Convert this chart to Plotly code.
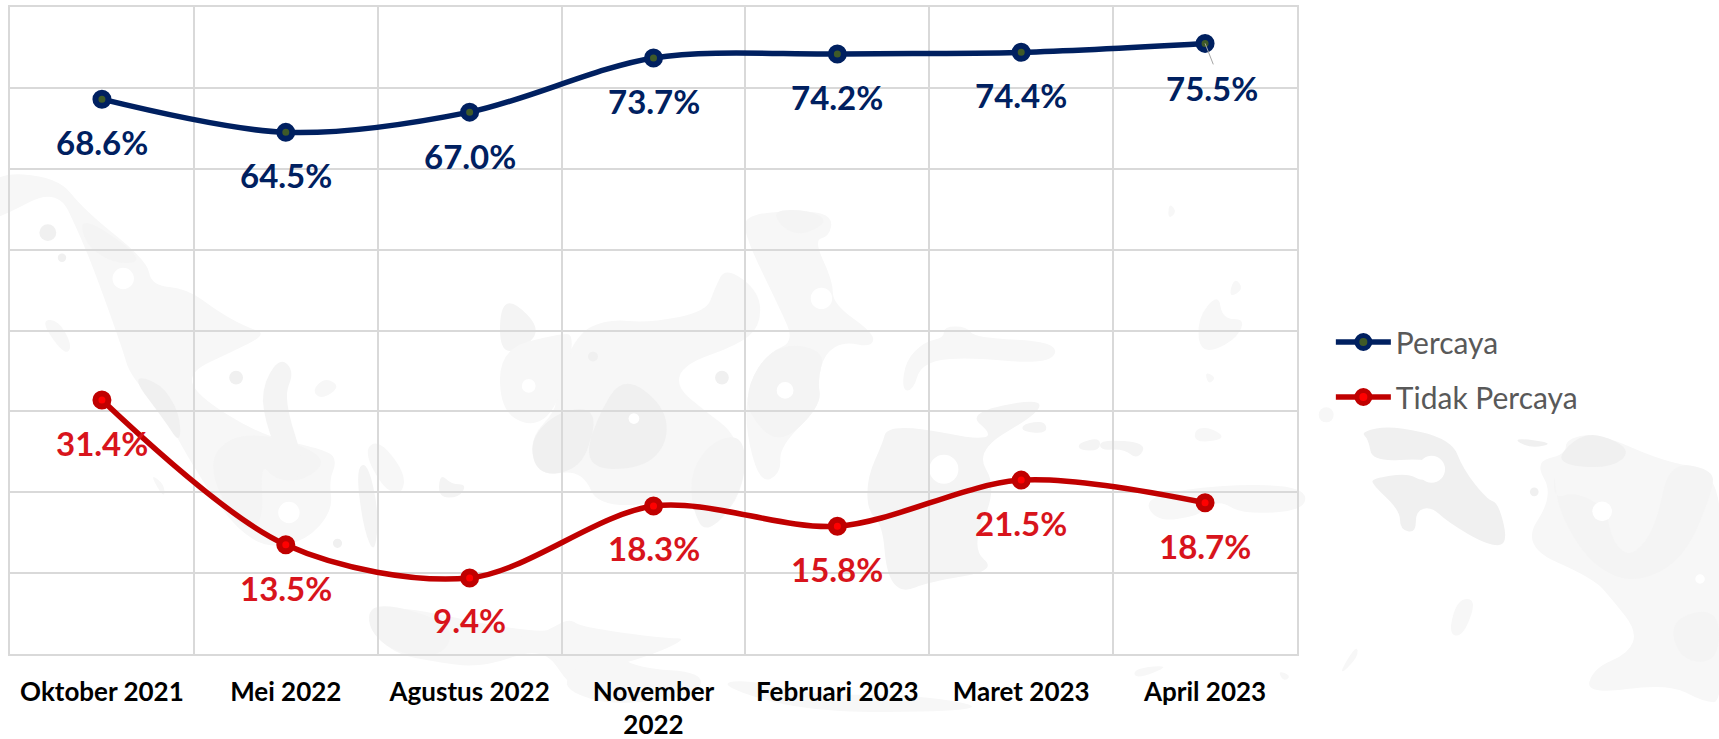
import plotly.graph_objects as go

# ---------- data ----------
categories = ["Oktober 2021", "Mei 2022", "Agustus 2022", "November<br>2022",
              "Februari 2023", "Maret 2023", "April 2023"]
percaya = [68.6, 64.5, 67.0, 73.7, 74.2, 74.4, 75.5]
tidak_percaya = [31.4, 13.5, 9.4, 18.3, 15.8, 21.5, 18.7]
y_ticks = [0, 10, 20, 30, 40, 50, 60, 70, 80]

# label offsets (px)
percaya_shift = [43, 43, 44, 43, 43, 43, 45]
tidak_shift = [43, 43, 42, 42, 43, 43, 43]
percaya_xshift = [0, 0, 0, 0, 0, 0, 7]

NAVY, RED, RED_TXT, GRID = "#002060", "#c00000", "#d8141c", "#d9d9d9"
W, H = 1719, 739
L, R, T, B = 10, 1297, 7, 654
FONT = "Lato, Carlito, Calibri, sans-serif"

fig = go.Figure()
fig.add_trace(go.Scatter(
    x=categories, y=percaya, name="Percaya", mode="lines+markers",
    line=dict(color=NAVY, width=5.5, shape="spline", smoothing=0.9),
    marker=dict(size=13, color="#3f5a28", line=dict(color=NAVY, width=6)),
    legendgroup="a", hoverinfo="skip"))
fig.add_trace(go.Scatter(
    x=categories, y=tidak_percaya, name="Tidak Percaya", mode="lines+markers",
    line=dict(color=RED, width=5.5, shape="spline", smoothing=0.9),
    marker=dict(size=13, color="#ff0000", line=dict(color=RED, width=6)),
    legendgroup="b", hoverinfo="skip"))


# ---------- decorative watermark (map silhouette) in page pixels ----------
def px(x):
    return (x - L) / (R - L)


def py(y):
    return (B - y) / (B - T)


def blob(points, sx, sy, ox, oy, color):
    p = [(ox + a / sx, oy + b / sy) for a, b in points]
    n = len(p)
    mids = [((p[i][0] + p[(i + 1) % n][0]) / 2, (p[i][1] + p[(i + 1) % n][1]) / 2) for i in range(n)]
    d = f"M{px(mids[-1][0]):.5f},{py(mids[-1][1]):.5f}"
    for i in range(n):
        d += f" Q{px(p[i][0]):.5f},{py(p[i][1]):.5f} {px(mids[i][0]):.5f},{py(mids[i][1]):.5f}"
    return dict(type="path", path=d + " Z", xref="paper", yref="paper", layer="below",
                fillcolor=color, line=dict(width=0))


def dot(x, y, r, sx, sy, ox, oy, color):
    cx, cy = ox + x / sx, oy + y / sy
    rr = r / sx
    return dict(type="circle", xref="paper", yref="paper", layer="below",
                x0=px(cx - rr), x1=px(cx + rr), y0=py(cy + rr), y1=py(cy - rr),
                fillcolor=color, line=dict(width=0))


LIGHT, SOFT, MID = "#f7f7f7", "#f4f4f4", "#f0f0f0"
Z4 = (1568 / 600, 1568 / 589, 0, 150)
Z5 = (1568 / 600, 1568 / 589, 500, 150)
Z6 = (1568 / 619, 1568 / 589, 1100, 150)

shapes = []
for pts, z, c in [
    # Sumatra
    ([(-30, 60), (150, 70), (220, 160), (385, 295), (395, 360), (490, 370), (570, 430), (640, 470),
      (700, 490), (600, 540), (495, 590), (510, 650), (680, 760), (860, 800), (880, 830), (860, 880),
      (870, 960), (800, 1040), (700, 1060), (620, 1010), (540, 900), (470, 780), (430, 700), (340, 600),
      (320, 530), (250, 330), (210, 230), (150, 100), (0, 180), (-30, 180)], Z4, LIGHT),
    ([(340, 598), (420, 620), (470, 700), (472, 785), (430, 720)], Z4, MID),
    ([(210, 170), (385, 295), (300, 305), (220, 250)], Z4, SOFT),
    ([(540, 840), (600, 760), (720, 760), (860, 820), (800, 880), (720, 880), (680, 830), (690, 1000), (620, 1010)], Z4, SOFT),
    ([(105, 455), (150, 450), (190, 520), (170, 548)], Z4, LIGHT),
    ([(680, 640), (730, 550), (770, 590), (740, 660), (800, 850), (760, 885), (700, 750)], Z4, SOFT),
    ([(815, 640), (850, 605), (890, 630), (840, 665)], Z4, LIGHT),
    ([(930, 850), (960, 830), (990, 960), (980, 1080), (950, 1010)], Z4, SOFT),
    ([(950, 800), (990, 770), (1060, 860), (1050, 920), (1000, 900)], Z4, LIGHT),
    ([(1150, 860), (1180, 890), (1220, 890), (1200, 925), (1145, 925)], Z4, SOFT),
    ([(390, 860), (430, 890), (430, 930)], Z4, LIGHT),
    # Java
    ([(975, 1198), (1420, 1295), (1490, 1250), (1560, 1290), (1560, 1460), (1490, 1430), (1420, 1320),
      (1260, 1380), (1120, 1360), (1030, 1340), (958, 1270)], Z4, LIGHT),
    ([(975, 1198), (1190, 1260), (1160, 1350), (1030, 1340), (958, 1270)], Z4, SOFT),
    # Kalimantan
    ([(280, 450), (390, 460), (540, 430), (560, 370), (590, 310), (680, 380), (680, 470), (620, 520),
      (480, 570), (460, 630), (530, 690), (620, 760), (645, 900), (540, 1030), (530, 920), (260, 960),
      (215, 850), (100, 870), (75, 770), (150, 690), (140, 640), (200, 490)], Z5, LIGHT),
    ([(320, 598), (430, 680), (440, 780), (370, 850), (215, 848), (260, 690), (160, 690), (75, 770), (100, 870), (215, 848), (250, 720)], Z5, MID),
    ([(0, 420), (35, 400), (110, 480), (50, 535), (0, 535)], Z5, SOFT),
    ([(0, 530), (150, 490), (200, 490), (150, 690), (80, 740), (0, 690)], Z5, LIGHT),
    ([(500, 850), (560, 770), (640, 760), (640, 900), (540, 1030), (500, 950)], Z5, SOFT),
    # Sulawesi
    ([(640, 170), (810, 160), (870, 180), (860, 230), (820, 240), (870, 350), (870, 410), (980, 490),
      (970, 525), (900, 510), (850, 540), (830, 610), (840, 680), (730, 790), (735, 860), (680, 890),
      (640, 740), (650, 620), (700, 540), (770, 510), (730, 420), (640, 230)], Z5, LIGHT),
    ([(710, 160), (810, 160), (860, 190), (790, 228), (740, 210)], Z5, SOFT),
    ([(650, 620), (700, 540), (770, 515), (850, 540), (830, 610), (840, 680), (730, 790), (645, 700)], Z5, SOFT),
    # Maluku band
    ([(1010, 740), (1100, 740), (1240, 770), (1290, 760), (1220, 700), (1410, 660), (1410, 700),
      (1240, 800), (1300, 900), (1230, 1060), (1300, 1120), (1120, 1150), (1050, 1180), (1010, 1130),
      (1000, 1000), (960, 960), (960, 870), (1000, 780)], Z5, SOFT),
    ([(1160, 470), (1220, 470), (1240, 500), (1460, 510), (1440, 572), (1200, 550), (1100, 570),
      (1080, 640), (1050, 640), (1060, 560), (1110, 510), (1160, 500)], Z5, LIGHT),
    ([(1365, 730), (1425, 720), (1430, 755), (1365, 750)], Z5, SOFT),
    ([(1510, 780), (1568, 765), (1568, 800), (1515, 800)], Z5, SOFT),
    # Lesser Sunda
    ([(0, 1290), (110, 1290), (180, 1245), (210, 1270), (430, 1300), (495, 1300), (360, 1360), (170, 1400), (110, 1300)], Z5, LIGHT),
    ([(180, 1390), (280, 1330), (360, 1380), (530, 1390), (520, 1450), (300, 1480), (170, 1440)], Z5, LIGHT),
    ([(570, 1420), (650, 1410), (800, 1450), (1100, 1450), (1300, 1490), (900, 1500), (700, 1470)], Z5, LIGHT),
    # small islands right
    ([(175, 140), (195, 165), (172, 185)], Z6, LIGHT),
    ([(340, 338), (365, 370), (325, 395)], Z6, LIGHT),
    ([(245, 450), (300, 380), (310, 450), (370, 450), (340, 510), (255, 545)], Z6, LIGHT),
    ([(265, 590), (295, 605), (275, 625)], Z6, LIGHT),
    ([(240, 740), (285, 740), (320, 770), (240, 780)], Z6, LIGHT),
    ([(0, 770), (120, 780), (95, 825), (60, 795), (0, 800)], Z6, SOFT),
    ([(110, 920), (320, 890), (520, 895), (520, 960), (360, 970), (300, 930), (250, 975), (140, 990)], Z6, LIGHT),
    # Papua
    ([(1100, 830), (1180, 810), (1180, 770), (1260, 752), (1430, 830), (1550, 850), (1580, 1000),
      (1580, 1470), (1530, 1470), (1440, 1420), (1230, 1450), (1250, 1380), (1340, 1340), (1360, 1280),
      (1300, 1200), (1250, 1140), (1065, 1055), (1150, 920)], Z6, LIGHT),
    ([(1150, 835), (1200, 770), (1260, 752), (1350, 800), (1290, 850)], Z6, MID),
    ([(1150, 850), (1160, 960), (1240, 1100), (1350, 1158), (1480, 1090), (1555, 900), (1550, 850),
      (1440, 830), (1410, 1000), (1350, 1085), (1300, 1050), (1280, 950), (1200, 910), (1150, 930)], Z6, SOFT),
    ([(1440, 1250), (1568, 1215), (1568, 1365), (1470, 1360)], Z6, SOFT),
    # Bird's head
    ([(660, 750), (740, 733), (890, 770), (920, 850), (980, 930), (1010, 940), (1035, 1052), (980, 1052),
      (880, 990), (840, 950), (800, 960), (800, 1020), (760, 1010), (760, 960), (690, 890), (690, 875),
      (780, 860), (820, 885), (870, 850), (830, 820), (690, 830), (680, 770)], Z6, MID),
    ([(1040, 765), (1155, 780), (1090, 795)], Z6, MID),
    ([(905, 1195), (955, 1195), (920, 1295), (882, 1290)], Z6, LIGHT),
    ([(650, 1315), (655, 1350), (600, 1405)], Z6, LIGHT),
    ([(85, 1380), (185, 1370), (90, 1410)], Z6, LIGHT),
    ([(450, 1385), (485, 1400), (465, 1415)], Z6, LIGHT),
]:
    shapes.append(blob(pts, *z, c))

for (x, y, r, z, c) in [
    (125, 220, 22, Z4, MID), (322, 342, 28, Z4, "#ffffff"), (162, 287, 11, Z4, MID),
    (617, 606, 18, Z4, MID), (755, 965, 28, Z4, "#ffffff"), (882, 1047, 12, Z4, MID),
    (840, 395, 28, Z5, "#ffffff"), (745, 640, 22, Z5, "#ffffff"), (75, 628, 18, Z5, "#ffffff"),
    (350, 715, 14, Z5, "#ffffff"), (1160, 850, 38, Z5, "#ffffff"), (243, 550, 13, Z5, MID),
    (580, 606, 18, Z5, MID), (840, 850, 34, Z6, "#ffffff"), (1272, 962, 25, Z6, "#ffffff"),
    (573, 705, 19, Z6, LIGHT), (1100, 910, 11, Z6, MID), (1520, 1142, 12, Z6, "#ffffff"),
]:
    shapes.append(dot(x, y, r, *z, c))

# ---------- data labels ----------
annotations = []
for vals, shifts, xshifts, col in [(percaya, percaya_shift, percaya_xshift, NAVY),
                                   (tidak_percaya, tidak_shift, [0] * 7, RED_TXT)]:
    for c, v, s, xs in zip(categories, vals, shifts, xshifts):
        annotations.append(dict(x=c, y=v, xref="x", yref="y", text=f"<b>{v:.1f}%</b>", showarrow=False,
                                yshift=-s, xshift=xs, font=dict(family=FONT, size=33, color=col)))
# thin leader line of the last Percaya label
annotations.append(dict(x=categories[-1], y=percaya[-1], xref="x", yref="y", text=" ", showarrow=True,
                        arrowhead=0, arrowwidth=1, arrowcolor="#a6a6a6", ax=9, ay=23, standoff=0,
                        font=dict(size=1)))

tick_text = ['<span style="font-size:26px"><b>'
             + c.replace("<br>", '</b></span><br><span style="font-size:26px"><b>')
             + "</b></span>" for c in categories]

fig.update_layout(
    width=W, height=H, autosize=False,
    margin=dict(l=L, r=W - R, t=T, b=H - B, autoexpand=False),
    paper_bgcolor="white", plot_bgcolor="rgba(0,0,0,0)",
    shapes=shapes, annotations=annotations,
    font=dict(family=FONT),
    legend=dict(x=(1336 - L) / (R - L) - 0.004, y=(B - 316) / (B - T), xanchor="left", yanchor="top",
                itemwidth=55, tracegroupgap=13, traceorder="grouped",
                font=dict(family=FONT, size=30, color="#595959"), bgcolor="rgba(0,0,0,0)"),
    showlegend=True,
    xaxis=dict(type="category", categoryorder="array", categoryarray=categories,
               range=[-0.5, 6.5], tickson="boundaries", tickmode="array",
               tickvals=categories, ticktext=tick_text, tickangle=0,
               showgrid=True, gridcolor=GRID, gridwidth=2, ticks="outside", ticklen=36,
               ticklabelstandoff=15, tickcolor="rgba(0,0,0,0)",
               showline=True, mirror=True, linecolor=GRID, linewidth=2, zeroline=False,
               tickfont=dict(family=FONT, size=25, color="black")),
    yaxis=dict(range=[0, 80], tickvals=y_ticks, showticklabels=False, showgrid=True, gridcolor=GRID,
               gridwidth=2, showline=True, mirror=True, linecolor=GRID, linewidth=2, zeroline=False),
)

fig.write_html("out.html", config={"displayModeBar": False},
               post_script="document.body.style.margin='0';document.body.style.overflow='hidden';")
